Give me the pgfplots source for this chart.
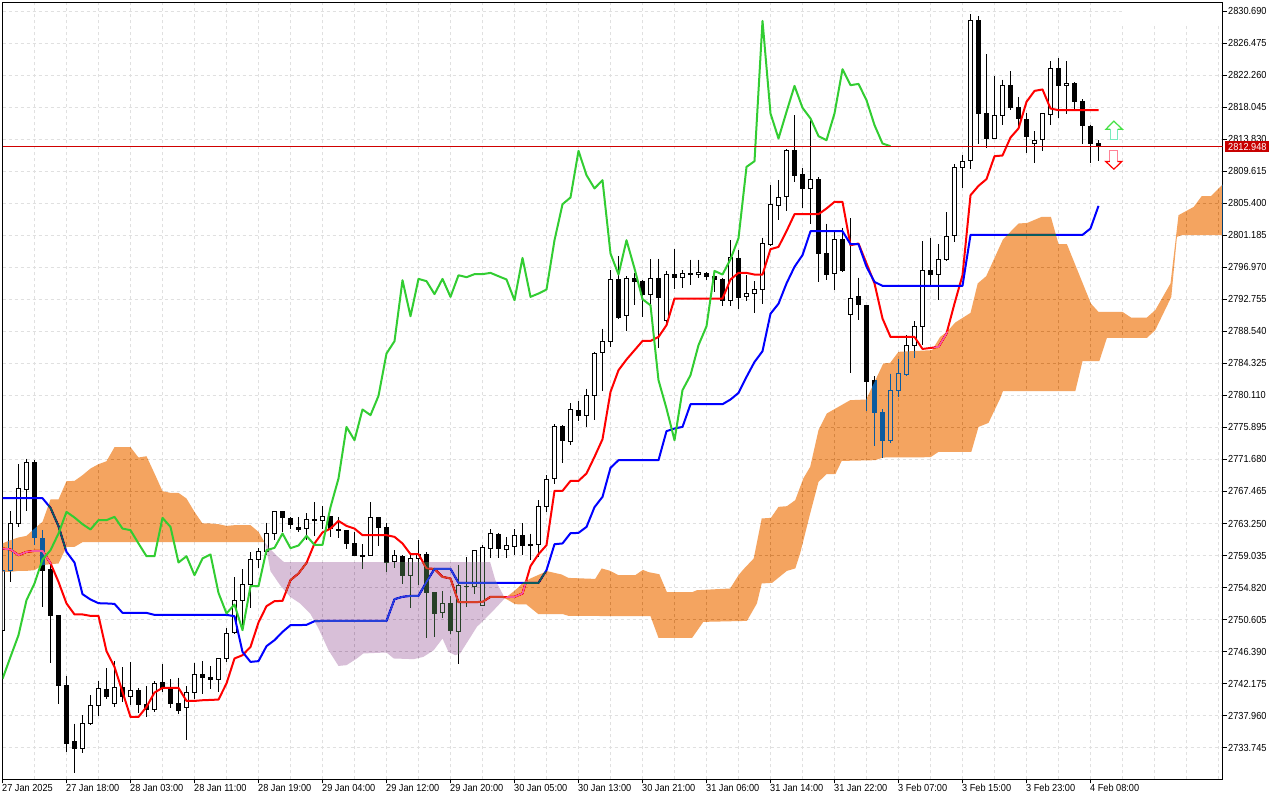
\documentclass[border=0pt]{standalone}
\usepackage{pgfplots}
\usepackage{fontspec}
\setmainfont[FakeStretch=0.9]{Liberation Sans}
\pgfplotsset{compat=1.18}
\definecolor{gridc}{HTML}{E0E0E0}
\definecolor{maskorange}{HTML}{0B5B9F}
\definecolor{maskthistle}{HTML}{274027}
\definecolor{chikou}{HTML}{32CD32}
\definecolor{pricered}{HTML}{D00000}
\definecolor{pricebox}{HTML}{C80000}
\newcommand\candlebody[6]{%
  \pgfmathsetmacro\xa{#1-0.25}\pgfmathsetmacro\xb{#1+0.25}%
  \addplot[black,line width=1bp,forget plot] coordinates {(#1,#3) (#1,#4)};%
  \edef\temp{\noexpand\addplot[black,line width=1bp,fill=#6,forget plot,line join=miter] coordinates {(\xa,#2) (\xb,#2) (\xb,#5) (\xa,#5)} -- cycle;}\temp}
\newcommand\bull[5]{\candlebody{#1}{#2}{#3}{#4}{#5}{white}}
\newcommand\bear[5]{\candlebody{#1}{#2}{#3}{#4}{#5}{black}}
\begin{document}
\begin{tikzpicture}[x=1bp,y=1bp]
\fill[white] (0,0) rectangle (1280,800);
\begin{axis}[
  at={(2.5bp,20.5bp)},anchor=south west,
  scale only axis,width=1220bp,height=777bp,
  xmin=0,xmax=152.5,ymin=2729.53,ymax=2831.875,
  axis line style={black,line width=1bp},
  xtick pos=bottom,ytick pos=right,tick align=outside,
  major tick length=4bp,minor tick length=0pt,
  tick style={black,line width=1bp},
  xtick={0,8,...,136},
  minor xtick={4,12,20,28,36,44,52,60,68,76,84,92,100,108,116,124,132,140,144,148,152},
  xticklabels={27 Jan 2025,27 Jan 18:00,28 Jan 03:00,28 Jan 11:00,28 Jan 19:00,29 Jan 04:00,29 Jan 12:00,29 Jan 20:00,30 Jan 05:00,30 Jan 13:00,30 Jan 21:00,31 Jan 06:00,31 Jan 14:00,31 Jan 22:00,3 Feb 07:00,3 Feb 15:00,3 Feb 23:00,4 Feb 08:00},
  ytick={2830.690,2826.475,2822.260,2818.045,2813.830,2809.615,2805.400,2801.185,2796.970,2792.755,2788.540,2784.325,2780.110,2775.895,2771.680,2767.465,2763.250,2759.035,2754.820,2750.605,2746.390,2742.175,2737.960,2733.745},
  yticklabels={2830.690,2826.475,2822.260,2818.045,2813.830,2809.615,2805.400,2801.185,2796.970,2792.755,2788.540,2784.325,2780.110,2775.895,2771.680,2767.465,2763.250,2759.035,2754.820,2750.605,2746.390,2742.175,2737.960,2733.745},
  tick label style={font=\fontsize{10.2bp}{11bp}\selectfont,black,inner sep=0pt},
  xticklabel style={anchor=north west,xshift=-0.5bp,yshift=-0.5bp},
  yticklabel style={anchor=west,xshift=1.5bp},
  xmajorgrids,xminorgrids,ymajorgrids,
  grid style={gridc,line width=1bp,dash pattern=on 3bp off 3bp},
  minor grid style={gridc,line width=1bp,dash pattern=on 3bp off 3bp},
  cycle list={{black}},
]
% the grid is not drawn in the top right corner of the chart
\addplot[fill=white,draw=none,forget plot] coordinates {(139.9,2828.89)(152.4,2828.89)(152.4,2831.8)(139.9,2831.8)} -- cycle;
\bull{0}{2749.20}{2757.10}{2749.20}{2757.10}
\bull{1}{2757.10}{2764.87}{2755.56}{2763.25}
\bull{2}{2763.25}{2771.06}{2762.80}{2767.86}
\bull{3}{2767.73}{2771.81}{2764.91}{2771.29}
\bear{4}{2771.29}{2771.59}{2760.39}{2761.41}
\bear{5}{2761.28}{2762.37}{2752.27}{2757.10}
\bear{6}{2757.19}{2757.89}{2744.89}{2751.08}
\bear{7}{2751.17}{2751.17}{2739.44}{2741.86}
\bear{8}{2741.95}{2743.14}{2733.16}{2734.21}
\bear{9}{2734.57}{2736.90}{2730.32}{2733.56}
\bull{10}{2733.56}{2737.99}{2732.96}{2736.90}
\bull{11}{2736.85}{2740.60}{2736.68}{2739.27}
\bull{12}{2739.22}{2742.48}{2737.86}{2741.52}
\bear{13}{2741.39}{2744.17}{2740.14}{2740.42}
\bull{14}{2739.48}{2745.12}{2739.09}{2741.65}
\bear{15}{2741.65}{2744.33}{2739.75}{2740.42}
\bull{16}{2740.47}{2745.03}{2739.31}{2741.25}
\bear{17}{2741.25}{2741.52}{2738.30}{2739.35}
\bear{18}{2739.40}{2741.82}{2737.77}{2738.75}
\bull{19}{2738.75}{2742.48}{2738.43}{2742.18}
\bear{20}{2742.31}{2744.72}{2741.07}{2741.60}
\bear{21}{2741.52}{2742.74}{2738.96}{2739.48}
\bear{22}{2739.54}{2742.95}{2738.13}{2738.56}
\bull{23}{2739.01}{2741.82}{2734.70}{2740.98}
\bull{24}{2740.98}{2744.94}{2740.19}{2743.35}
\bear{25}{2743.35}{2745.12}{2740.76}{2742.90}
\bear{26}{2742.95}{2744.46}{2741.47}{2742.64}
\bull{27}{2742.70}{2745.51}{2741.07}{2745.47}
\bull{28}{2745.47}{2749.42}{2745.02}{2748.76}
\bull{29}{2748.84}{2756.18}{2748.67}{2753.11}
\bull{30}{2753.11}{2757.19}{2749.20}{2755.22}
\bull{31}{2755.22}{2759.43}{2752.10}{2758.51}
\bull{32}{2758.51}{2760.04}{2757.40}{2759.51}
\bull{33}{2759.51}{2763.38}{2759.08}{2761.88}
\bull{34}{2761.93}{2764.87}{2761.05}{2764.80}
\bear{35}{2764.83}{2764.87}{2762.14}{2763.99}
\bear{36}{2763.95}{2764.08}{2762.50}{2763.07}
\bear{37}{2762.72}{2764.04}{2762.14}{2762.41}
\bull{38}{2762.54}{2764.57}{2761.05}{2763.78}
\bear{39}{2763.78}{2766.02}{2761.58}{2763.59}
\bull{40}{2763.65}{2765.57}{2762.58}{2764.17}
\bear{41}{2764.21}{2764.21}{2761.49}{2762.58}
\bear{42}{2762.50}{2764.12}{2761.36}{2762.37}
\bear{43}{2762.37}{2762.37}{2759.87}{2760.56}
\bear{44}{2760.62}{2762.14}{2758.98}{2758.98}
\bear{45}{2759.04}{2760.49}{2757.27}{2758.85}
\bull{46}{2759.04}{2766.02}{2759.04}{2764.04}
\bear{47}{2764.04}{2764.12}{2760.26}{2762.72}
\bear{48}{2762.72}{2763.38}{2756.88}{2758.11}
\bull{49}{2758.25}{2759.73}{2757.40}{2759.04}
\bear{50}{2758.94}{2759.08}{2755.30}{2756.35}
\bull{51}{2756.35}{2759.38}{2752.14}{2758.64}
\bull{52}{2758.59}{2761.01}{2755.12}{2759.17}
\bear{53}{2759.17}{2759.51}{2748.18}{2754.11}
\bear{54}{2754.16}{2754.16}{2748.32}{2751.35}
\bull{55}{2751.53}{2754.33}{2750.82}{2752.72}
\bear{56}{2752.72}{2753.68}{2748.63}{2749.11}
\bull{57}{2748.98}{2757.76}{2744.68}{2755.09}
\bear{58}{2754.99}{2758.78}{2752.27}{2754.90}
\bull{59}{2754.90}{2759.73}{2753.90}{2759.66}
\bull{60}{2752.45}{2760.39}{2752.45}{2760.06}
\bull{61}{2759.96}{2762.50}{2758.72}{2761.93}
\bear{62}{2761.84}{2762.01}{2758.72}{2759.91}
\bull{63}{2759.83}{2761.49}{2758.72}{2760.35}
\bull{64}{2760.22}{2762.46}{2759.08}{2761.67}
\bear{65}{2761.67}{2763.29}{2759.08}{2760.30}
\bear{66}{2760.49}{2761.93}{2758.42}{2760.36}
\bull{67}{2760.49}{2766.32}{2758.85}{2765.53}
\bull{68}{2765.53}{2769.61}{2764.74}{2769.09}
\bull{69}{2769.12}{2776.29}{2768.43}{2776.07}
\bear{70}{2776.07}{2776.16}{2771.23}{2774.13}
\bull{71}{2774.00}{2779.09}{2773.60}{2778.27}
\bear{72}{2778.13}{2779.32}{2776.72}{2777.42}
\bull{73}{2777.47}{2781.03}{2775.93}{2780.11}
\bull{74}{2780.11}{2785.90}{2776.86}{2785.64}
\bull{75}{2785.72}{2788.93}{2780.68}{2787.22}
\bull{76}{2787.22}{2796.61}{2786.51}{2795.39}
\bear{77}{2795.39}{2798.45}{2790.20}{2790.38}
\bull{78}{2790.59}{2795.82}{2788.62}{2795.52}
\bear{79}{2795.52}{2796.18}{2791.99}{2795.12}
\bear{80}{2795.12}{2795.29}{2790.46}{2793.36}
\bull{81}{2793.36}{2798.06}{2791.99}{2795.52}
\bear{82}{2795.52}{2798.15}{2786.30}{2793.02}
\bull{83}{2790.02}{2796.52}{2789.37}{2796.04}
\bear{84}{2796.04}{2799.38}{2794.20}{2795.65}
\bull{85}{2795.69}{2796.61}{2794.33}{2796.18}
\bear{86}{2796.18}{2798.02}{2794.66}{2795.99}
\bull{87}{2796.04}{2798.02}{2795.52}{2796.31}
\bear{88}{2796.18}{2796.35}{2795.29}{2795.78}
\bear{89}{2795.78}{2796.61}{2793.75}{2795.33}
\bear{90}{2795.39}{2795.65}{2791.91}{2792.66}
\bull{91}{2792.62}{2800.56}{2791.91}{2798.28}
\bear{92}{2798.15}{2799.25}{2791.44}{2792.96}
\bull{93}{2793.15}{2795.95}{2792.53}{2793.54}
\bull{94}{2793.54}{2795.17}{2790.91}{2794.02}
\bull{95}{2794.02}{2800.91}{2792.22}{2800.13}
\bull{96}{2800.04}{2807.81}{2799.81}{2805.26}
\bull{97}{2805.08}{2808.47}{2803.19}{2806.19}
\bull{98}{2806.27}{2812.52}{2804.38}{2812.42}
\bear{99}{2812.42}{2817.03}{2808.24}{2809.03}
\bear{100}{2809.22}{2810.13}{2804.82}{2807.32}
\bull{101}{2807.32}{2816.37}{2802.76}{2808.57}
\bear{102}{2808.57}{2808.83}{2795.07}{2798.76}
\bear{103}{2798.81}{2802.76}{2795.29}{2795.99}
\bull{104}{2796.18}{2801.65}{2793.98}{2800.65}
\bear{105}{2800.65}{2802.21}{2796.39}{2796.61}
\bull{106}{2790.78}{2803.43}{2783.08}{2792.88}
\bear{107}{2793.09}{2795.65}{2790.02}{2792.04}
\bear{108}{2791.99}{2791.99}{2778.04}{2781.99}
\bear{109}{2782.08}{2782.65}{2773.47}{2777.82}
\bear{110}{2777.91}{2778.30}{2771.89}{2774.13}
\bull{111}{2774.13}{2783.00}{2773.87}{2780.77}
\bull{112}{2780.77}{2784.85}{2779.92}{2783.00}
\bull{113}{2782.82}{2788.05}{2782.65}{2786.69}
\bull{114}{2786.69}{2789.89}{2785.11}{2789.19}
\bull{115}{2789.19}{2800.43}{2786.82}{2796.57}
\bear{116}{2796.57}{2800.87}{2794.51}{2795.99}
\bull{117}{2796.04}{2800.00}{2792.66}{2798.02}
\bull{118}{2797.97}{2804.25}{2797.80}{2801.05}
\bull{119}{2801.12}{2810.57}{2800.30}{2810.13}
\bull{120}{2810.08}{2811.75}{2807.42}{2810.92}
\bull{121}{2811.07}{2830.33}{2809.92}{2829.50}
\bear{122}{2829.55}{2830.07}{2813.21}{2817.21}
\bear{123}{2817.26}{2825.07}{2812.72}{2813.92}
\bull{124}{2813.92}{2822.17}{2813.92}{2817.00}
\bull{125}{2817.00}{2821.73}{2815.72}{2820.94}
\bear{126}{2820.94}{2822.83}{2817.69}{2818.00}
\bear{127}{2818.05}{2819.36}{2815.28}{2816.55}
\bear{128}{2816.47}{2817.26}{2812.07}{2814.19}
\bull{129}{2813.30}{2814.92}{2810.75}{2813.70}
\bull{130}{2813.83}{2817.21}{2812.33}{2817.21}
\bull{131}{2817.13}{2824.14}{2815.80}{2823.18}
\bear{132}{2823.18}{2824.50}{2816.68}{2820.89}
\bull{133}{2820.94}{2824.14}{2817.21}{2821.21}
\bear{134}{2821.21}{2821.34}{2817.69}{2818.78}
\bear{135}{2818.84}{2819.14}{2813.21}{2815.62}
\bear{136}{2815.58}{2815.80}{2810.75}{2813.25}
\bear{137}{2813.30}{2813.74}{2810.97}{2812.91}
% Tenkan-sen
\addplot[red,line width=2bp,line join=round,forget plot] coordinates {
(0,2759.96)(1,2759.83)(2,2759.08)(3,2759.51)(4,2759.64)(5,2759.64)(6,2758.02)(7,2755.56)(8,2752.72)(9,2751.27)(10,2751.27)(11,2751.08)(12,2751.08)(13,2746.43)(14,2744.36)(15,2741.07)(16,2737.77)(17,2737.77)(18,2739.09)(19,2740.98)(20,2741.60)(21,2741.60)(22,2741.60)(23,2739.88)(24,2739.88)(25,2739.97)(26,2740.01)(27,2740.06)(28,2742.18)(29,2745.47)(30,2745.90)(31,2746.99)(32,2750.21)(33,2752.36)(34,2753.02)(35,2753.06)(36,2755.79)(37,2756.67)(38,2758.06)(39,2760.62)(40,2762.07)(41,2762.58)(42,2763.59)(43,2762.93)(44,2762.58)(45,2761.71)(46,2761.71)(47,2761.71)(48,2761.71)(49,2761.49)(50,2760.62)(51,2759.21)(52,2759.21)(53,2757.33)(54,2757.27)(55,2756.22)(56,2756.01)(57,2752.89)(58,2752.89)(59,2752.89)(60,2752.93)(61,2753.59)(62,2753.59)(63,2753.55)(64,2753.59)(65,2754.03)(66,2757.63)(67,2759.21)(68,2760.39)(69,2767.55)(70,2767.55)(71,2768.86)(72,2768.86)(73,2769.84)(74,2772.03)(75,2774.35)(76,2780.58)(77,2783.44)(78,2784.85)(79,2786.07)(80,2787.29)(81,2787.29)(82,2787.82)(83,2789.37)(84,2792.88)(90,2792.88)(91,2795.39)(92,2796.26)(93,2796.26)(94,2796.04)(95,2796.04)(96,2799.38)(97,2799.68)(98,2801.75)(99,2803.99)(102,2803.99)(103,2804.74)(104,2805.61)(105,2805.61)(106,2799.90)(107,2800.13)(108,2797.50)(109,2794.87)(110,2790.25)(111,2787.82)(114,2787.82)(115,2786.24)(116,2786.37)(117,2786.51)(118,2788.27)(119,2792.22)(120,2795.95)(121,2806.49)(122,2807.72)(123,2808.61)(124,2811.63)(125,2811.72)(126,2814.09)(127,2815.28)(128,2818.79)(129,2820.23)(130,2820.42)(131,2817.91)(132,2817.69)(137,2817.69)};
% Kijun-sen
\addplot[blue,line width=2bp,line join=round,forget plot] coordinates {
(0,2766.58)(5,2766.58)(6,2765.31)(7,2762.90)(8,2759.51)(9,2758.11)(10,2753.94)(11,2753.24)(12,2752.75)(13,2752.72)(14,2752.66)(15,2751.48)(18,2751.48)(19,2751.21)(28,2751.21)(29,2751.04)(30,2746.34)(31,2745.02)(32,2745.12)(33,2747.09)(34,2747.88)(35,2748.97)(36,2749.86)(37,2749.86)(38,2749.90)(39,2750.38)(40,2750.42)(48,2750.42)(49,2753.28)(50,2753.59)(51,2753.72)(52,2753.72)(53,2755.56)(54,2757.27)(56,2757.27)(57,2755.43)(67,2755.43)(68,2757.10)(69,2760.52)(70,2760.62)(71,2761.97)(72,2762.01)(73,2762.80)(74,2765.40)(75,2766.76)(76,2770.58)(77,2771.59)(82,2771.59)(83,2775.41)(84,2775.76)(85,2775.97)(86,2778.96)(90,2778.96)(91,2779.58)(92,2780.45)(93,2782.56)(94,2784.53)(95,2785.94)(96,2790.88)(97,2792.20)(98,2794.87)(99,2797.06)(100,2798.60)(101,2801.75)(105,2801.75)(106,2800.04)(107,2800.04)(108,2797.06)(109,2795.07)(110,2794.55)(120,2794.55)(121,2801.26)(135,2801.26)(136,2802.11)(137,2805.08)};
% Kumo: bullish part
\addplot[draw=none,fill=maskorange,blend mode=difference,forget plot] coordinates {
(0,2760.62)(1,2761.05)(2,2761.41)(3,2761.62)(4,2762.58)(5,2763.46)(6,2766.41)(7,2766.41)(8,2768.82)(9,2768.86)(10,2769.61)(11,2770.49)(12,2771.06)(13,2771.45)(14,2773.30)(16,2773.30)(17,2771.94)(18,2772.11)(19,2769.84)(20,2767.51)(21,2767.28)(22,2767.28)(23,2766.54)(24,2764.78)(25,2763.25)(26,2763.25)(27,2763.16)(28,2762.93)(29,2763.03)(31,2763.03)(32,2762.14)(32.75,2760.79)
(10,2760.79)(9,2760.17)(8,2760.17)(7,2757.98)(6,2757.89)(5,2757.76)(4,2757.10)(3,2757.01)(2,2757.01)(1,2756.88)(0,2756.88)} -- cycle;
% Kumo: bearish part
\addplot[draw=none,fill=maskthistle,blend mode=difference,forget plot] coordinates {
(32.75,2760.79)(33.5,2759.86)(34.2,2759.08)(35.2,2758.15)(60.96,2758.15)(61.6,2755.79)(62.8,2753.41)
(61.2,2751.61)(59.3,2749.64)(58.25,2747.88)(57.2,2746.13)(56.6,2745.90)(55.75,2746.34)(55,2748.10)(53.9,2746.56)(52.6,2745.68)(51.4,2745.38)(48.9,2745.47)(48,2746.26)(45.1,2746.13)(44.3,2745.47)(43,2744.59)(42,2744.49)(40.75,2746.56)(39.5,2749.42)(38.46,2751.40)(37.2,2752.72)(35.96,2753.59)(34.7,2755.12)(34.1,2756.05)(33.5,2756.97)(33.05,2759.51)} -- cycle;
% Kumo: bullish part
\addplot[draw=none,fill=maskorange,blend mode=difference,forget plot] coordinates {
(62.8,2753.41)(64.09,2754.46)(65.1,2755.48)(65.96,2756.00)(68.05,2756.97)(69.9,2756.53)(70.75,2756.08)(74.09,2755.95)(74.9,2757.33)(75.96,2757.01)(77,2756.44)(79.09,2756.44)(80.05,2757.14)(80.75,2756.84)(82.1,2756.57)(83.05,2754.20)(86.2,2754.20)(86.8,2754.46)(90.96,2754.69)(92,2756.44)(92.6,2757.19)(93.9,2758.64)(94.9,2763.91)(96.05,2763.99)(97,2765.44)(98.05,2765.53)(99.09,2766.32)(100.1,2769.18)(100.96,2770.71)(102,2775.54)(103.05,2777.75)(105.96,2779.49)(107.96,2779.58)(110.1,2784.33)(110.96,2784.41)(112,2785.86)(116.2,2786.08)(117.2,2787.82)(118.05,2788.48)(119.09,2789.72)(121,2790.99)(121.9,2794.87)(122.96,2795.82)(125.05,2800.65)(127,2802.76)(128.1,2802.84)(129.9,2803.64)(131.05,2803.64)(132,2800.04)(133.05,2800.04)(136.05,2792.22)(137,2791.12)(140,2791.12)(141.05,2790.38)(143.05,2790.38)(144.09,2791.35)(146,2794.87)(147,2803.86)(148.9,2804.95)(149.9,2806.36)(151.05,2806.36)(152.5,2807.90)
(152.5,2801.23)(147.4,2801.23)(146.8,2801.01)(146.1,2793.10)(144.09,2788.71)(143.05,2787.70)(138.05,2787.70)(137.1,2784.63)(135,2784.63)(134.1,2780.68)(125.05,2780.68)(124.7,2779.71)(123.25,2776.50)(122,2775.97)(121.1,2772.68)(117,2772.68)(116,2771.98)(110.05,2771.94)(109.1,2771.59)(104.9,2771.49)(104.1,2769.74)(103,2769.74)(102,2768.73)(100.96,2764.57)(99.7,2759.30)(99.1,2757.33)(98.05,2757.01)(96.2,2755.43)(94.9,2755.35)(94.3,2752.72)(93.05,2750.42)(87.6,2750.29)(86.2,2748.18)(82,2748.18)(81,2751.04)(70.75,2751.08)(70.1,2751.30)(67,2751.30)(65.5,2752.58)(64.09,2752.62)} -- cycle;
% Chikou span
\addplot[chikou,line width=2bp,line join=round,forget plot] coordinates {
(0,2742.78)(1,2745.68)(2,2748.54)(3,2753.15)(4,2755.35)(5,2758.51)(6,2759.73)(7,2761.93)(8,2764.78)(9,2764.04)(10,2763.16)(11,2762.46)(12,2763.69)(13,2763.69)(14,2764.12)(15,2762.58)(16,2762.37)(17,2760.62)(18,2758.94)(19,2758.94)(20,2763.99)(21,2762.80)(22,2758.11)(23,2758.94)(24,2756.44)(25,2758.64)(26,2759.17)(27,2754.11)(28,2751.40)(29,2752.58)(30,2749.20)(31,2754.99)(32,2754.99)(33,2759.73)(34,2760.04)(35,2761.93)(36,2760.00)(37,2760.35)(38,2761.62)(39,2760.43)(40,2760.43)(41,2765.40)(42,2769.18)(43,2775.97)(44,2774.22)(45,2778.27)(46,2777.52)(47,2780.06)(48,2785.64)(49,2787.26)(50,2795.29)(51,2790.55)(52,2795.47)(53,2795.17)(54,2793.46)(55,2795.47)(56,2793.10)(57,2795.95)(58,2795.69)(59,2796.09)(60,2796.09)(61,2796.26)(62,2795.82)(63,2795.39)(64,2792.66)(65,2798.23)(66,2793.10)(67,2793.54)(68,2794.07)(69,2800.56)(70,2805.30)(71,2806.19)(72,2812.33)(73,2809.13)(74,2807.38)(75,2808.47)(76,2798.81)(77,2796.04)(78,2800.56)(79,2796.84)(80,2792.79)(81,2791.99)(82,2782.12)(83,2778.40)(84,2774.22)(85,2780.81)(86,2782.79)(87,2786.74)(88,2789.23)(89,2796.52)(90,2796.04)(91,2798.06)(92,2800.83)(93,2810.22)(94,2810.97)(95,2829.45)(96,2817.26)(97,2813.96)(98,2817.47)(99,2820.89)(100,2818.00)(101,2816.60)(102,2814.27)(103,2813.74)(104,2817.26)(105,2823.09)(106,2820.98)(107,2821.15)(108,2819.01)(109,2815.72)(110,2813.30)(111,2812.95)};
% current price
\addplot[pricered,line width=1bp,forget plot] coordinates {(0,2812.948)(152.5,2812.948)};
% signal arrows
\addplot[fill=white,draw=none,forget plot] coordinates {(138.92,2816.24)(139.97,2815.19)(139.42,2815.19)(139.42,2813.83)(138.45,2813.83)(138.45,2815.19)(137.93,2815.19)} -- cycle;
\addplot[color={rgb,255:red,120;green,235;blue,190},line width=1.2bp,forget plot] coordinates {(139.42,2815.19)(139.42,2813.83)(138.45,2813.83)(138.45,2815.19)};
\addplot[color={rgb,255:red,70;green,225;blue,70},line width=1.2bp,line join=miter,forget plot] coordinates {(139.42,2815.19)(139.97,2815.19)(138.92,2816.24)(137.93,2815.19)(138.45,2815.19)};
\addplot[fill=white,draw=none,forget plot] coordinates {(138.92,2809.92)(139.92,2810.93)(139.37,2810.93)(139.37,2812.38)(138.42,2812.38)(138.42,2810.93)(137.9,2810.93)} -- cycle;
\addplot[color={rgb,255:red,255;green,130;blue,150},line width=1.2bp,forget plot] coordinates {(139.37,2810.93)(139.37,2812.38)(138.42,2812.38)(138.42,2810.93)};
\addplot[red,line width=1.2bp,line join=miter,forget plot] coordinates {(139.37,2810.93)(139.92,2810.93)(138.92,2809.92)(137.9,2810.93)(138.42,2810.93)};
\end{axis}
\fill[pricebox] (1225,800-152) rectangle (1269,800-141);
\node[anchor=west,inner sep=0pt,white,font=\fontsize{10.2bp}{11bp}\selectfont] at (1228,800-146.5) {2812.948};
\pgfresetboundingbox
\useasboundingbox (0,0) rectangle (1280,800);
\end{tikzpicture}
\end{document}
